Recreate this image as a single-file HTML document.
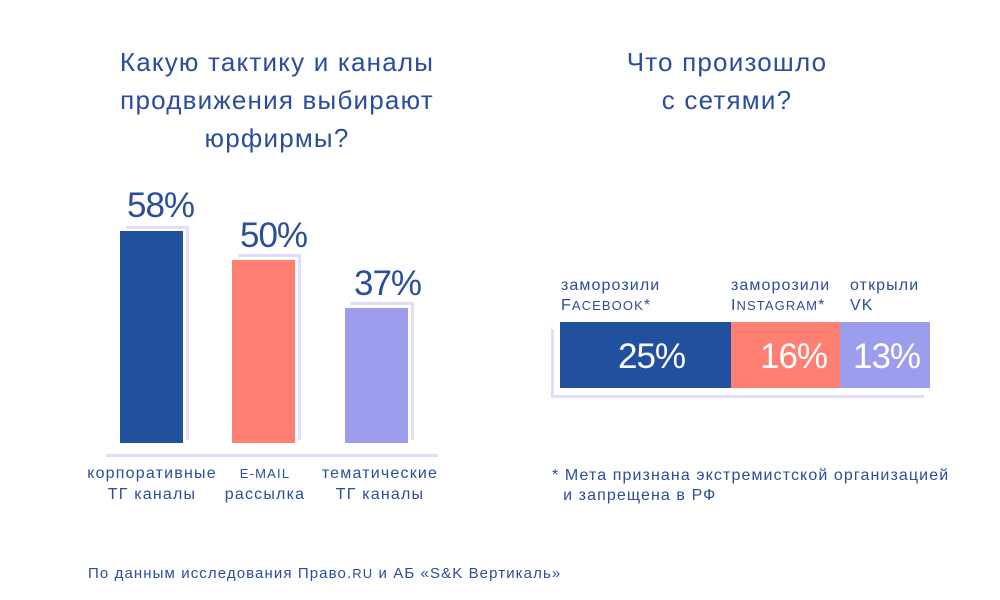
<!DOCTYPE html>
<html><head><meta charset="utf-8"><style>
body{margin:0;width:1000px;height:600px;background:#fff;font-family:"Liberation Sans",sans-serif;color:#2a4d9c;position:relative;overflow:hidden}
div{position:absolute}
.t{font-size:26px;text-align:center;line-height:38px;letter-spacing:1.2px}
.p{font-size:35px;font-weight:300;letter-spacing:-1px}
.l{font-size:16px;text-align:center;line-height:21px;letter-spacing:1.2px}
.s{font-size:16px;line-height:20px;letter-spacing:1.1px}
.sc{font-size:13px;text-transform:uppercase}
</style></head><body>
<div class="t" style="left:77px;top:43px;width:400px">Какую тактику и каналы<br>продвижения выбирают<br>юрфирмы?</div>
<div class="t" style="left:577px;top:43px;width:300px">Что произошло<br>с сетями?</div>

<div style="left:106px;top:454px;width:332px;height:3px;background:#e2ddfb"></div>
<div style="left:126px;top:226px;width:62px;height:3px;background:#e2ddfb"></div>
<div style="left:186px;top:226px;width:3px;height:214px;background:#e2ddfb"></div>
<div style="left:120px;top:231px;width:63px;height:212px;background:#20509e"></div>
<div class="p" style="left:127px;top:186px">58%</div>
<div style="left:238px;top:254px;width:62px;height:3px;background:#e2ddfb"></div>
<div style="left:298px;top:254px;width:3px;height:186px;background:#e2ddfb"></div>
<div style="left:232px;top:260px;width:63px;height:183px;background:#ff7f72"></div>
<div class="p" style="left:240px;top:216px">50%</div>
<div style="left:350px;top:302px;width:62px;height:3px;background:#e2ddfb"></div>
<div style="left:411px;top:302px;width:3px;height:138px;background:#e2ddfb"></div>
<div style="left:345px;top:308px;width:63px;height:135px;background:#9d9ded"></div>
<div class="p" style="left:354px;top:264px">37%</div>

<div class="l" style="left:72px;top:463px;width:160px">корпоративные<br>ТГ каналы</div>
<div class="l" style="left:200px;top:463px;width:130px"><span class="sc">e-mail</span><br>рассылка</div>
<div class="l" style="left:300px;top:463px;width:160px">тематические<br>ТГ каналы</div>

<div class="s" style="left:561px;top:276px">заморозили<br>F<span class="sc">acebook</span>*</div>
<div class="s" style="left:731px;top:276px">заморозили<br>I<span class="sc">nstagram</span>*</div>
<div class="s" style="left:850px;top:276px">открыли<br>VK</div>

<div style="left:551px;top:329px;width:3px;height:68px;background:#e2ddfb"></div>
<div style="left:551px;top:395px;width:373px;height:3px;background:#e2ddfb"></div>
<div style="left:560px;top:322px;width:171px;height:66px;background:#20509e"></div>
<div style="left:731px;top:322px;width:109px;height:66px;background:#ff7f72"></div>
<div style="left:840px;top:322px;width:90px;height:66px;background:#9d9ded"></div>
<div class="p" style="left:618px;top:337px;color:#fff">25%</div>
<div class="p" style="left:760px;top:337px;color:#fff">16%</div>
<div class="p" style="left:853px;top:337px;color:#fff">13%</div>

<div class="s" style="left:552px;top:466px">* Мета признана экстремистской организацией<br>&nbsp;&nbsp;и запрещена в РФ</div>
<div style="left:88px;top:565px;font-size:15px;letter-spacing:1.1px">По данным исследования Право.<span class="sc">ru</span> и АБ «S&amp;K Вертикаль»</div>
</body></html>
